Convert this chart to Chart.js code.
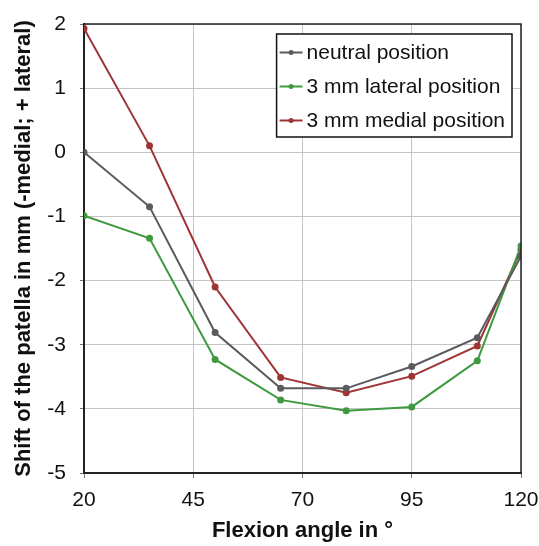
<!DOCTYPE html>
<html>
<head>
<meta charset="utf-8">
<script src="https://cdn.jsdelivr.net/npm/chart.js@4/dist/chart.umd.min.js"></script>
<style>
  body { margin: 0; background: #fff; }
  #wrap { width: 539px; height: 546px; }
</style>
</head>
<body>
<div id="wrap"><canvas id="patellaChart"></canvas></div>
<script>
// data
const flexionAngles = [20, 35, 50, 65, 80, 95, 110, 120];
const neutralPos = [0, -0.85, -2.81, -3.68, -3.68, -3.34, -2.89, -1.62];
const lateralPos = [-0.99, -1.34, -3.23, -3.86, -4.03, -3.97, -3.25, -1.46];
const medialPos = [1.93, 0.1, -2.1, -3.51, -3.75, -3.49, -3.02, -1.52];
const xTicks = [20, 45, 70, 95, 120];
const yTicks = [-5, -4, -3, -2, -1, 0, 1, 2];
const seriesNames = ["neutral position", "3 mm lateral position", "3 mm medial position"];
const seriesColors = ["#5b5b5f", "#3f9a3f", "#9e3434"];

const FONT = "'Liberation Sans', Arial, sans-serif";

function toPoints(ys) {
  return flexionAngles.map((x, i) => ({ x: x, y: ys[i] }));
}

// legend box inside the plot, upper right
const boxLegend = {
  id: "boxLegend",
  afterDraw(chart) {
    const c = chart.ctx;
    const area = chart.chartArea;
    c.save();
    c.font = "21px " + FONT;
    let maxW = 0;
    chart.data.datasets.forEach((d) => {
      maxW = Math.max(maxW, c.measureText(d.label).width);
    });
    const w = 30 + maxW + 7;
    const h = 103;
    const left = area.right - 9 - w;
    const top = area.top + 10;
    c.fillStyle = "#fff";
    c.fillRect(left, top, w, h);
    c.strokeStyle = "#111";
    c.lineWidth = 1.5;
    c.strokeRect(left, top, w, h);
    chart.data.datasets.forEach((d, i) => {
      const y = top + 18.5 + i * 34;
      c.strokeStyle = d.borderColor;
      c.lineWidth = 2;
      c.beginPath();
      c.moveTo(left + 3, y);
      c.lineTo(left + 26, y);
      c.stroke();
      c.fillStyle = d.borderColor;
      c.beginPath();
      c.arc(left + 14.5, y, 2.5, 0, Math.PI * 2);
      c.fill();
      c.fillStyle = "#111";
      c.textBaseline = "middle";
      c.textAlign = "left";
      c.fillText(d.label, left + 30, y + 1);
    });
    c.restore();
  },
};

// black frame on top and right of the plot
const plotFrame = {
  id: "plotFrame",
  afterDatasetsDraw(chart) {
    const c = chart.ctx;
    const a = chart.chartArea;
    c.save();
    c.strokeStyle = "#222";
    c.lineWidth = 1.5;
    c.beginPath();
    c.moveTo(a.left, a.top);
    c.lineTo(a.right, a.top);
    c.lineTo(a.right, a.bottom);
    c.stroke();
    c.restore();
  },
};

const datasets = [neutralPos, lateralPos, medialPos].map((ys, i) => ({
  label: seriesNames[i],
  data: toPoints(ys),
  borderColor: seriesColors[i],
  backgroundColor: seriesColors[i],
  borderWidth: 2,
  pointRadius: 2.5,
  pointHoverRadius: 2.5,
  tension: 0,
}));

const ctx = document.getElementById("patellaChart").getContext("2d");
const patellaChart = new Chart(ctx, {
  type: "line",
  data: { datasets: datasets },
  options: {
    responsive: true,
    maintainAspectRatio: false,
    animation: false,
    layout: { padding: { top: 24, right: 18, left: 0, bottom: 0 } },
    plugins: {
      legend: { display: false },
      tooltip: { enabled: false },
    },
    scales: {
      x: {
        type: "linear",
        min: 20,
        max: 120,
        afterBuildTicks: (scale) => {
          scale.ticks = xTicks.map((v) => ({ value: v }));
        },
        afterFit: (scale) => {
          scale.height = 73;
          scale.paddingLeft = 0;
          scale.paddingRight = 0;
        },
        grid: { color: "#c4c4c4", lineWidth: 1, tickLength: 5, tickColor: "#777" },
        border: { color: "#222", width: 2 },
        ticks: {
          color: "#111",
          padding: 10,
          maxRotation: 0,
          font: { family: FONT, size: 21 },
        },
        title: {
          display: true,
          text: "Flexion angle in °",
          color: "#111",
          padding: { top: 0, bottom: 2 },
          font: { family: FONT, size: 22, weight: "bold" },
        },
      },
      y: {
        min: -5,
        max: 2,
        afterBuildTicks: (scale) => {
          scale.ticks = yTicks.map((v) => ({ value: v }));
        },
        afterFit: (scale) => {
          scale.width = 84;
          scale.paddingTop = 0;
          scale.paddingBottom = 0;
        },
        grid: { color: "#c4c4c4", lineWidth: 1, tickLength: 4, tickColor: "#777" },
        border: { color: "#222", width: 2 },
        ticks: {
          color: "#111",
          padding: 14,
          font: { family: FONT, size: 21 },
        },
        title: {
          display: true,
          text: "Shift of the patella in mm (-medial; + lateral)",
          color: "#111",
          padding: { top: 11, bottom: 0 },
          font: { family: FONT, size: 22, weight: "bold" },
        },
      },
    },
  },
  plugins: [plotFrame, boxLegend],
});
</script>
</body>
</html>
